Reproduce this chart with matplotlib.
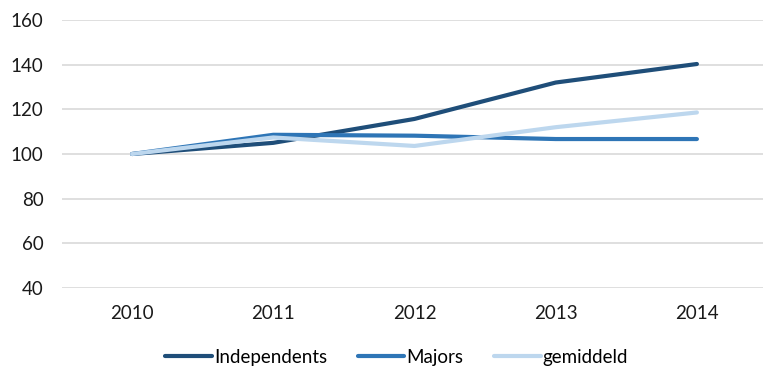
import matplotlib
matplotlib.use("Agg")
import matplotlib.pyplot as plt

years = ["2010", "2011", "2012", "2013", "2014"]
independents = [100, 105, 115.7, 132, 140.3]
majors = [100, 108.6, 108.2, 106.7, 106.7]
gemiddeld = [100, 107.4, 103.6, 112, 118.6]

plt.rcParams['font.family'] = ['Lato', 'DejaVu Sans']

fig = plt.figure(figsize=(7.63, 3.69), dpi=100)
ax = fig.add_axes([61.5/763, 1-288/369, (767.5-61.5)/763, (288-20)/369])

x = range(len(years))
ax.plot(x, independents, color='#1F4E79', lw=3.0, solid_capstyle='round', label='Independents')
ax.plot(x, majors, color='#2E75B6', lw=3.0, solid_capstyle='round', label='Majors')
ax.plot(x, gemiddeld, color='#BDD7EE', lw=3.0, solid_capstyle='round', label='gemiddeld')

ax.set_xlim(-0.5, 4.5)
ax.set_ylim(40, 160)
ax.set_yticks(range(40, 161, 20))
ax.set_xticks(list(x))
ax.set_xticklabels(years)
ax.grid(axis='y', color='#D9D9D9', lw=1.2)
ax.set_axisbelow(True)
for s in ax.spines.values():
    s.set_visible(False)
ax.tick_params(length=0, labelsize=13.5, colors='#1a1a1a')
ax.tick_params(axis='y', pad=13)
ax.tick_params(axis='x', pad=12)

# legend sits a bit right of centre, like the original
fig.legend(loc='center', bbox_to_anchor=(0.52, 1-357/369), ncol=3, frameon=False,
           fontsize=13.5, handlelength=2.5, handletextpad=0.12, columnspacing=1.6)

fig.savefig('out.png', dpi=100)
